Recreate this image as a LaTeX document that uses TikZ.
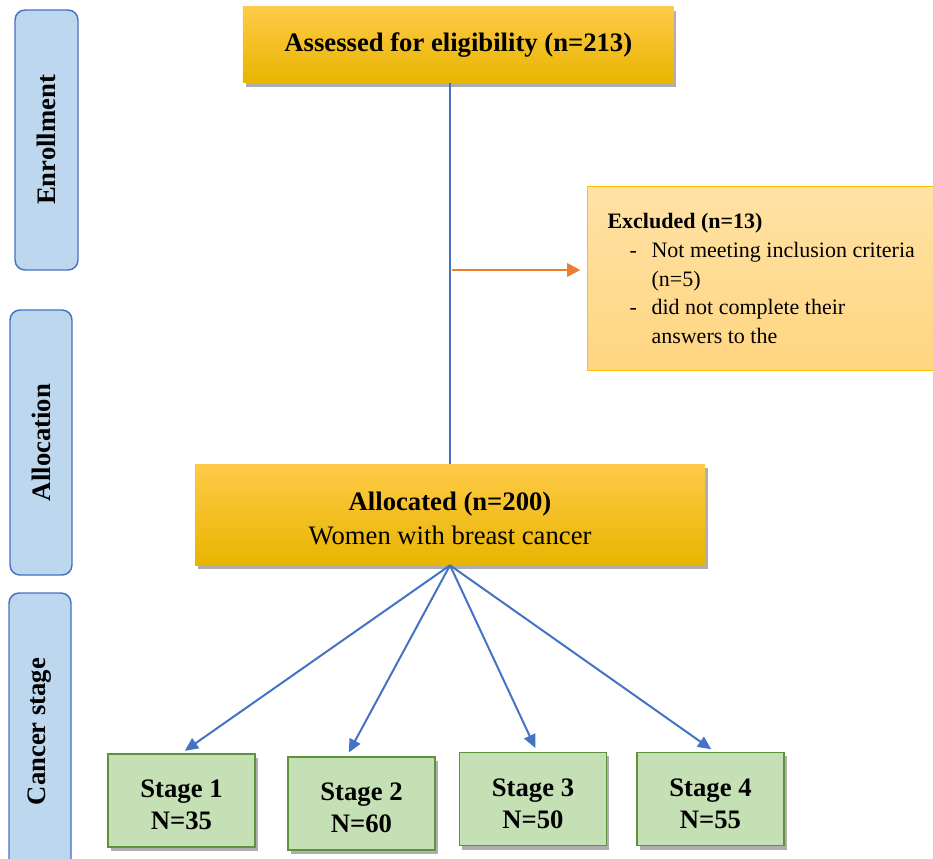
\documentclass[tikz,border=0pt]{standalone}
\usepackage{fontspec}
\setmainfont{Liberation Serif}
\usetikzlibrary{arrows.meta,shadows}
\definecolor{gold}{RGB}{255,192,0}
\definecolor{goldtop}{RGB}{255,202,72}
\definecolor{golddark}{RGB}{232,181,0}
\definecolor{excltop}{RGB}{255,226,165}
\definecolor{exclbot}{RGB}{255,213,128}
\definecolor{phasefill}{RGB}{189,215,238}
\definecolor{phaseline}{RGB}{68,114,196}
\definecolor{stagefill}{RGB}{197,224,180}
\definecolor{stageline}{RGB}{96,146,60}
\definecolor{orangeline}{RGB}{237,125,49}
\newcommand{\toppad}{\rule{0pt}{20pt}}

\tikzset{
	boxshadow/.style={drop shadow={shadow xshift=2pt,shadow yshift=-3pt,opacity=0.45,fill=black!70}},
	phase/.style={draw=phaseline,line width=1.1pt,fill=phasefill,rounded corners=7.5pt,rotate=90,font=\fontsize{20}{24}\selectfont\bfseries},
	goldbox/.style={top color=goldtop,middle color=gold,bottom color=golddark,boxshadow,align=center,font=\fontsize{20}{25}\selectfont},
	exclbox/.style={draw=gold,line width=0.8pt,top color=excltop,bottom color=exclbot,inner xsep=15pt,text width=240pt,minimum height=138pt,align=flush left,font=\fontsize{16.5}{21.5}\selectfont},
	stagebox/.style={draw=stageline,line width=1.1pt,fill=stagefill,boxshadow,minimum width=110pt,minimum height=70pt,align=center,font=\fontsize{20}{24}\selectfont\bfseries},
	flow/.style={draw=phaseline,line width=1.7pt},
	stagearrow/.style={draw=phaseline,line width=1.5pt,-{Triangle[length=10pt,width=9pt]},shorten >=3pt},
	exclarrow/.style={draw=orangeline,line width=2.2pt,-{Triangle[length=10pt,width=10pt]},shorten >=5pt}
}

\begin{document}
\begin{tikzpicture}[x=0.75pt,y=-0.75pt]
	\useasboundingbox (0,0) rectangle (933,858);
	\clip (0,0) rectangle (933,858);

	\node[phase,minimum width=195pt,minimum height=47.25pt] (enroll) at (46.5,140) {Enrollment};
	\node[phase,minimum width=198.75pt,minimum height=46.5pt] (allocphase) at (41,442.5) {Allocation};
	\node[phase,minimum width=207.75pt,minimum height=46.5pt] (stagephase) at (40,731.5) {Cancer stage};

	\node[goldbox,minimum width=323pt,minimum height=57pt] (assess) at (458.3,44.7) {\textbf{Assessed for eligibility (n=213)}};
	\node[exclbox,anchor=north west] (excl) at (587,186) {\textbf{Excluded (n=13)}\\
		\hspace*{16.5pt}\makebox[16.5pt][l]{-}Not meeting inclusion criteria\\
		\hspace*{33pt}(n=5)\\
		\hspace*{16.5pt}\makebox[16.5pt][l]{-}did not complete their\\
		\hspace*{33pt}answers to the};
	\node[goldbox,minimum width=382.5pt,minimum height=75.75pt] (alloc) at (450,514.5) {\toppad\textbf{Allocated (n=200)}\\Women with breast cancer};

	\node[stagebox] (s1) at (181.5,800.5) {\toppad Stage 1\\N=35};
	\node[stagebox] (s2) at (361.5,803.5) {\toppad Stage 2\\N=60};
	\node[stagebox] (s3) at (533,799) {\toppad Stage 3\\N=50};
	\node[stagebox] (s4) at (710.5,799) {\toppad Stage 4\\N=55};

	\draw[flow] (assess.south -| alloc.north) -- (alloc.north);
	\coordinate (split) at (452,270);
	\draw[exclarrow] (split) -- (split -| excl.west);

	\draw[stagearrow] (alloc.south) -- (s1.north);
	\draw[stagearrow] (alloc.south) -- ([xshift=-11pt]s2.north);
	\draw[stagearrow] (alloc.south) -- ([xshift=3pt]s3.north);
	\draw[stagearrow] (alloc.south) -- ([xshift=3pt]s4.north);
\end{tikzpicture}
\end{document}
